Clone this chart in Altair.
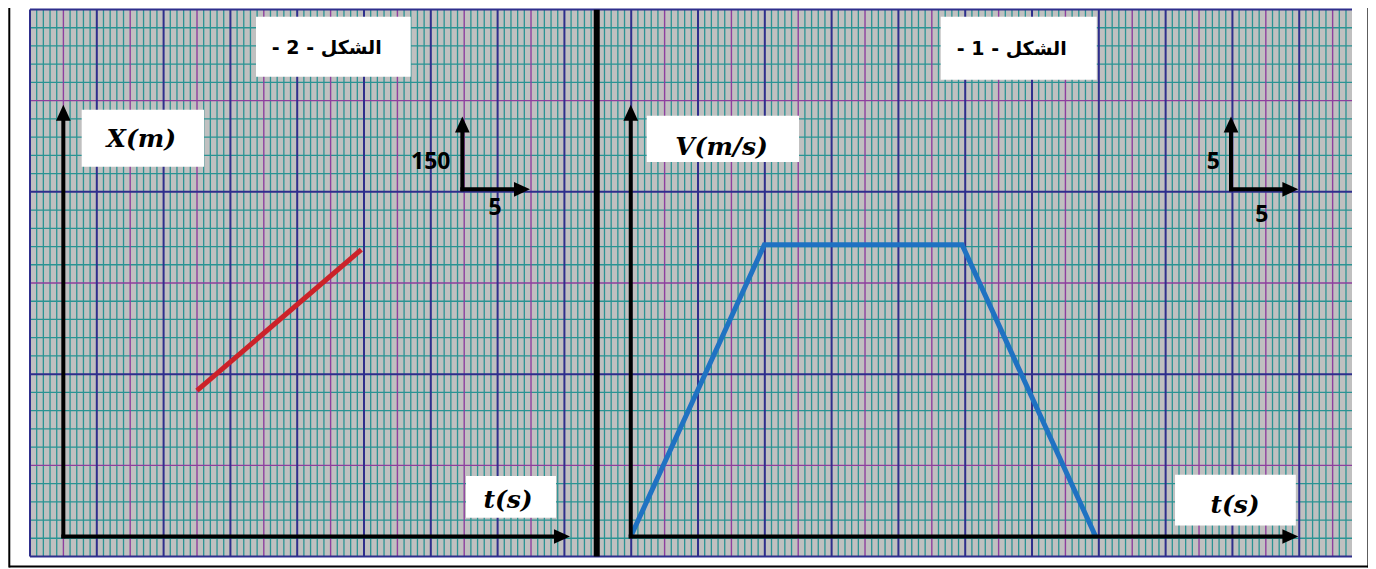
import altair as alt
import pandas as pd

# ---------------- data ----------------
# Figure 1 : V(t)
vt_t = [0, 10, 24.8, 34.8]          # s
vt_v = [0, 20, 20, 0]               # m/s
# Figure 2 : X(t)
xt_t = [10, 22.3]                   # s
xt_x = [300, 590]                   # m

# scale of the graph paper (in minor squares)
SEC_PER_MINOR = 0.5                 # 5 s  -> 10 minor squares
V_PER_MINOR = 5 / 4                 # 5 m/s -> 4 minor squares
X_PER_MINOR = 150 / 4               # 150 m -> 4 minor squares

# ---------------- paper geometry (minor-square units) ----------------
U_MAX = 197.9
W_MAX = 30
W0 = 1.097                          # height of the time axes
U0_LEFT = 4.99                      # origin of figure 2
U0_RIGHT = 89.93                    # origin of figure 1

xs = alt.Scale(domain=[0, U_MAX], nice=False, zero=False)
ys = alt.Scale(domain=[0, W_MAX], nice=False, zero=False)


def X(f):
    return alt.X(f, type="quantitative", scale=xs, axis=None)


def Y(f):
    return alt.Y(f, type="quantitative", scale=ys, axis=None)


PX_U = 6.68      # pixels per minor square, horizontally
PX_W = 547 / 30  # pixels per minor square, vertically

BG = "#c0c0c0"
TEAL = "#2a9393"
PURPLE = "#8e3f9e"
NAVY = "#2e2e8c"

# ---------------- grid ----------------
vl = pd.DataFrame({"u": list(range(0, 198))})
vl["kind"] = ["major" if u % 10 == 0 else ("mid" if u % 5 == 0 else "minor") for u in vl["u"]]
vl["lo"] = 0
vl["hi"] = W_MAX
hl = pd.DataFrame({"w": list(range(0, 31))})
hl["kind"] = ["major" if w % 10 == 0 else ("mid" if w % 5 == 0 else "minor") for w in hl["w"]]
hl["lo"] = 0
hl["hi"] = U_MAX

bg = alt.Chart(pd.DataFrame({"a": [0], "b": [U_MAX], "c": [0], "d": [W_MAX]})).mark_rect(
    color=BG).encode(x=X("a"), x2="b", y=Y("c"), y2="d")


def vgrid(kind, color, sw):
    return alt.Chart(vl[vl["kind"] == kind]).mark_rule(color=color, strokeWidth=sw).encode(
        x=X("u"), y=Y("lo"), y2="hi")


def hgrid(kind, color, sw):
    return alt.Chart(hl[hl["kind"] == kind]).mark_rule(color=color, strokeWidth=sw).encode(
        y=Y("w"), x=X("lo"), x2="hi")


grid = [bg,
        vgrid("minor", TEAL, 1.3), hgrid("minor", TEAL, 1.3),
        vgrid("mid", PURPLE, 1.4), hgrid("mid", PURPLE, 1.4),
        vgrid("major", NAVY, 2), hgrid("major", NAVY, 2)]

# ---------------- outer frame and divider ----------------
FR_L, FR_R, FR_B = -3.1, 200.35, -0.548
frame_v = pd.DataFrame({"u": [FR_L, FR_R]})
frame_v["lo"] = FR_B - 0.05
frame_v["hi"] = 31
frame_v_l = alt.Chart(frame_v).mark_rule(color="black", strokeWidth=2).encode(
    x=X("u"), y=Y("lo"), y2="hi")
frame_b = alt.Chart(pd.DataFrame({"w": [FR_B], "a": [FR_L], "b": [FR_R]})).mark_rule(
    color="black", strokeWidth=2).encode(y=Y("w"), x=X("a"), x2="b")
divider = alt.Chart(pd.DataFrame({"u": [84.84], "lo": [0], "hi": [29.98]})).mark_rule(
    color="black", strokeWidth=6).encode(x=X("u"), y=Y("lo"), y2="hi")

# ---------------- white label boxes ----------------
boxes = pd.DataFrame({
    "u1": [33.83, 136.33, 7.74, 92.32, 65.27, 171.41],
    "u2": [56.99, 159.69, 26.05, 115.12, 78.74, 189.49],
    "w1": [26.31, 26.15, 21.37, 21.63, 2.12, 1.70],
    "w2": [29.60, 29.60, 24.50, 24.17, 4.42, 4.48],
})
box_layer = alt.Chart(boxes).mark_rect(color="white").encode(
    x=X("u1"), x2="u2", y=Y("w1"), y2="w2")

# ---------------- data lines ----------------
vt = pd.DataFrame({"t": vt_t, "v": vt_v, "i": range(len(vt_t))})
vt_line = alt.Chart(vt).transform_calculate(
    u=f"{U0_RIGHT} + datum.t / {SEC_PER_MINOR}",
    w=f"{W0} + datum.v / {V_PER_MINOR}",
).mark_line(color="#1f72c2", strokeWidth=5, strokeJoin="miter").encode(
    x=X("u"), y=Y("w"), order="i:Q")

xt = pd.DataFrame({"t": xt_t, "x": xt_x, "i": range(len(xt_t))})
xt_line = alt.Chart(xt).transform_calculate(
    u=f"{U0_LEFT} + datum.t / {SEC_PER_MINOR}",
    w=f"{W0} + datum.x / {X_PER_MINOR}",
).mark_line(color="#cc2229", strokeWidth=5).encode(
    x=X("u"), y=Y("w"), order="i:Q")

# ---------------- arrows ----------------
HEAD = 16  # px
up_tips = [(U0_LEFT, 24.77), (U0_RIGHT, 24.77), (64.72, 24.13), (179.79, 24.13)]
up_base = [1.0, 1.0, 20.03, 20.03]
right_tips = [(80.84, W0), (189.87, W0), (74.85, 20.14), (189.87, 20.14)]
right_base = [U0_LEFT - 0.3, U0_RIGHT - 0.3, 64.72 - 0.3, 179.79 - 0.3]

v_shafts = pd.DataFrame({
    "u": [p[0] for p in up_tips],
    "lo": up_base,
    "hi": [p[1] - 12 / PX_W for p in up_tips],
})
h_shafts = pd.DataFrame({
    "w": [p[1] for p in right_tips],
    "lo": right_base,
    "hi": [p[0] - 12 / PX_U for p in right_tips],
})
v_shaft_layer = alt.Chart(v_shafts).mark_rule(color="black", strokeWidth=4).encode(
    x=X("u"), y=Y("lo"), y2="hi")
h_shaft_layer = alt.Chart(h_shafts).mark_rule(color="black", strokeWidth=4).encode(
    y=Y("w"), x=X("lo"), x2="hi")

up_heads = pd.DataFrame({
    "u": [p[0] for p in up_tips],
    "w": [p[1] - (HEAD / 2) / PX_W for p in up_tips],
})
right_heads = pd.DataFrame({
    "u": [p[0] - (HEAD / 2) / PX_U for p in right_tips],
    "w": [p[1] for p in right_tips],
})
up_head_layer = alt.Chart(up_heads).mark_point(
    shape="M0,-1L0.92,1L-0.92,1Z", filled=True, color="black", opacity=1,
    size=HEAD * HEAD, strokeWidth=0).encode(x=X("u"), y=Y("w"))
right_head_layer = alt.Chart(right_heads).mark_point(
    shape="M1,0L-1,0.92L-1,-0.92Z", filled=True, color="black", opacity=1,
    size=HEAD * HEAD, strokeWidth=0).encode(x=X("u"), y=Y("w"))

# ---------------- texts ----------------
titles = pd.DataFrame({
    "u": [44.42, 146.96],
    "w": [27.88, 27.83],
    "label": ["\u202bالشكل - 2 -\u202c", "\u202bالشكل - 1 -\u202c"],
})
title_layer = alt.Chart(titles).mark_text(
    font="DejaVu Sans", fontWeight="bold", fontSize=19, color="black",
    align="center", baseline="middle").encode(x=X("u"), y=Y("w"), text="label:N")

maths = pd.DataFrame({
    "u": [16.66, 103.52, 71.56, 180.39],
    "w": [22.91, 22.47, 3.11, 2.84],
    "label": ["X(m)", "V(m/s)", "t(s)", "t(s)"],
})
math_layer = alt.Chart(maths).mark_text(
    font="DejaVu Serif", fontWeight="bold", fontStyle="italic", fontSize=25, color="black",
    align="center", baseline="middle").encode(x=X("u"), y=Y("w"), text="label:N")

scale_labels = pd.DataFrame({
    "u": [59.99, 69.61, 177.14, 184.39],
    "w": [21.66, 19.11, 21.66, 18.74],
    "label": ["150", "5", "5", "5"],
})
num_layer = alt.Chart(scale_labels).mark_text(
    font="Open Sans", fontWeight="bold", fontSize=23, color="black",
    align="center", baseline="middle").encode(x=X("u"), y=Y("w"), text="label:N")

chart = alt.layer(
    *grid, frame_v_l, frame_b, divider, box_layer,
    xt_line, vt_line,
    v_shaft_layer, h_shaft_layer, up_head_layer, right_head_layer,
    title_layer, math_layer, num_layer,
).properties(
    width=1322, height=547,
    autosize=alt.AutoSizeParams(type="none"),
    padding={"left": 22, "top": 1.5, "right": 16, "bottom": 12.5},
).configure_view(stroke=None)

chart.save("out.html", embed_options={"renderer": "svg", "actions": False})
